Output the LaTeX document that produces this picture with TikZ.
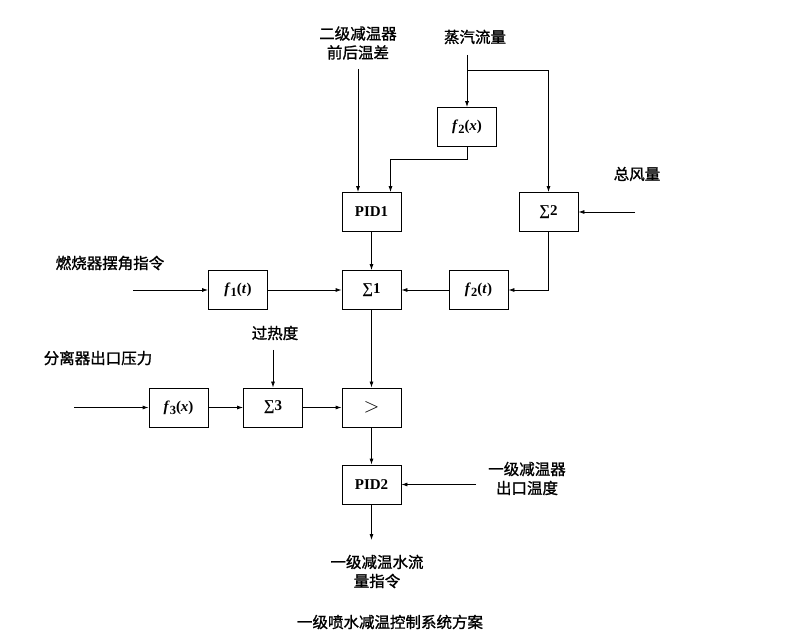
\documentclass[tikz,border=0pt]{standalone}
\usepackage{fontspec}
\setmainfont{Liberation Serif}
\newfontfamily\cjk{Noto Sans CJK SC}[FakeBold=1.2]
\usetikzlibrary{arrows.meta}
\newcommand{\fx}[2]{\textit{f}\raisebox{-0.45ex}{\fontsize{12.5}{14}\selectfont #1}(\textit{#2})}
\begin{document}
\begin{tikzpicture}[x=1pt,y=-1pt,
  blk/.style={draw,line width=0.8pt,minimum width=59pt,minimum height=39pt,inner sep=0pt,
    font=\fontsize{15}{16}\selectfont\bfseries},
  lbl/.style={font=\cjk\fontsize{15.5}{19}\selectfont,align=center,inner sep=0pt},
  arr/.style={line width=0.8pt,-{Latex[length=6pt,width=4pt]}},
  ln/.style={line width=0.8pt}]
\useasboundingbox (0,0) rectangle (785,644);
% blocks
\node[blk] (f2x) at (467,127) {\fx{2}{x}};
\node[blk] (pid1) at (371.5,212) {PID1};
\node[blk] (s2) at (548.5,212) {∑2};
\node[blk] (f2t) at (478.5,290) {\fx{2}{t}};
\node[blk] (s1) at (371.5,290) {∑1};
\node[blk] (f1t) at (238,290) {\fx{1}{t}};
\node[blk] (f3x) at (178.5,407.5) {\fx{3}{x}};
\node[blk] (s3) at (273,407.5) {∑3};
\node[blk] (gt) at (371.5,407.5) {\fontsize{20}{20}\selectfont\mdseries$>$};
\node[blk] (pid2) at (371.5,484.5) {PID2};
% labels
\node[lbl] (t1) at (358,43) {二级减温器\\前后温差};
\node[lbl] (t2) at (475,37) {蒸汽流量};
\node[lbl] (t3) at (637,174) {总风量};
\node[lbl] (t4) at (110,263) {燃烧器摆角指令};
\node[lbl] (t5) at (98,358) {分离器出口压力};
\node[lbl] (t6) at (275,333) {过热度};
\node[lbl] (t7) at (527,478.5) {一级减温器\\出口温度};
\node[lbl] (t8) at (377,571.5) {一级减温水流\\量指令};
\node[lbl] (cap) at (390,622) {一级喷水减温控制系统方案};
% free ends
\coordinate (in1) at (358,69);
\coordinate (steam) at (467,55);
\coordinate (junc) at (467,70);
\coordinate (air) at (635,212);
\coordinate (burn) at (133,290);
\coordinate (sh) at (273,350);
\coordinate (press) at (74,407.5);
\coordinate (tout) at (476,484.5);
\coordinate (outp) at (371.5,540);
% connectors
\draw[arr] (in1) -- (in1 |- pid1.north);
\draw[arr] (steam) -- (f2x.north);
\draw[arr] (junc) -| (s2.north);
\draw[arr] (f2x.south) -- ++(0,13) -| ([xshift=19pt]pid1.north);
\draw[arr] (pid1.south) -- (s1.north);
\draw[arr] (air) -- (s2.east);
\draw[arr] (s2.south) |- (f2t.east);
\draw[arr] (f2t.west) -- (s1.east);
\draw[arr] (burn) -- (f1t.west);
\draw[arr] (f1t.east) -- (s1.west);
\draw[arr] (s1.south) -- (gt.north);
\draw[arr] (sh) -- (s3.north);
\draw[arr] (press) -- (f3x.west);
\draw[arr] (f3x.east) -- (s3.west);
\draw[arr] (s3.east) -- (gt.west);
\draw[arr] (gt.south) -- (pid2.north);
\draw[arr] (tout) -- (pid2.east);
\draw[arr] (pid2.south) -- (outp);
\end{tikzpicture}
\end{document}
